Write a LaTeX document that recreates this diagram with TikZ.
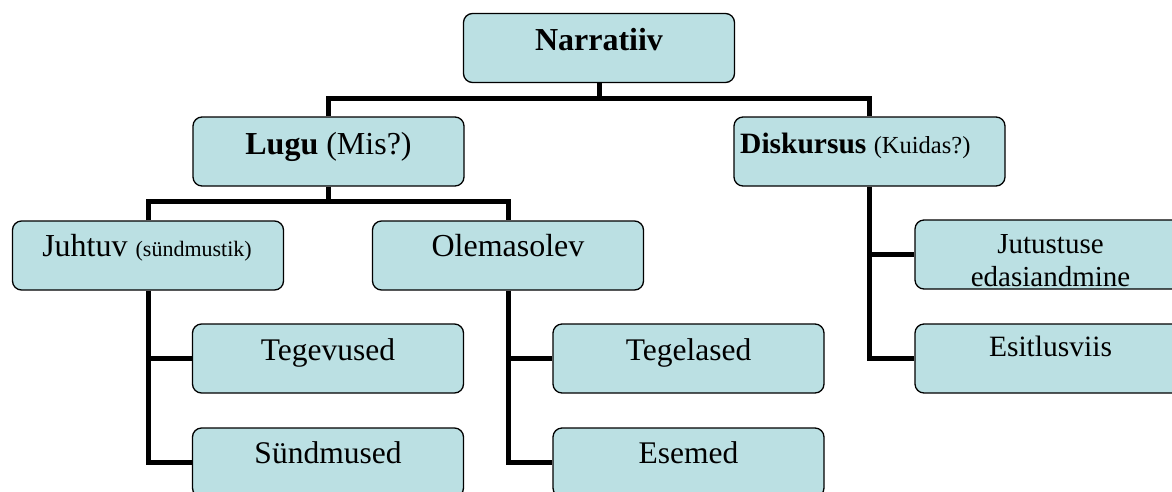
\documentclass[tikz,border=0pt]{standalone}
\usepackage{fontspec}
\setmainfont{Liberation Serif}
\definecolor{boxfill}{HTML}{BBE0E3}
\newcommand{\fsz}[1]{\fontsize{#1}{#1}\selectfont}
\begin{document}
\begin{tikzpicture}[x=1pt,y=1pt,
  box/.style={draw=black, line width=1.3pt, fill=boxfill, rounded corners=9pt,
    minimum width=271pt, minimum height=69pt, inner sep=0pt},
  lbl/.style={anchor=base, inner sep=0pt},
  conn/.style={line width=5pt, line join=miter}]
\useasboundingbox (0,0) rectangle (1172,-491);
\clip (0,0) rectangle (1172,-491);
% boxes
\node[box] (nar)  at (599,-48) {};
\node[box] (lugu) at (328.5,-151.5) {};
\node[box] (disk) at (869.5,-151.5) {};
\node[box] (juh)  at (148,-255.5) {};
\node[box] (ole)  at (508,-255.5) {};
\node[box] (teg)  at (328,-358.5) {};
\node[box] (sun)  at (328,-462.5) {};
\node[box] (tgl)  at (688.5,-358.5) {};
\node[box] (ese)  at (688.5,-462.5) {};
\node[box] (jut)  at (1050.5,-254.5) {};
\node[box] (esi)  at (1050.5,-358.5) {};
% connectors
\draw[conn] (nar.south) -- ++(0,-17);
\draw[conn] (lugu.north) -- ++(0,18) -| (disk.north);
\draw[conn] (lugu.south) -- ++(0,-17);
\draw[conn] (juh.north) -- ++(0,19) -| (ole.north);
\draw[conn] (juh.south) |- (sun.west);
\draw[conn] (juh.south |- teg.west) -- (teg.west);
\draw[conn] (ole.south) |- (ese.west);
\draw[conn] (ole.south |- tgl.west) -- (tgl.west);
\draw[conn] (disk.south) |- (esi.west);
\draw[conn] (disk.south |- jut.west) -- (jut.west);
% labels
\node[lbl] (tnar) at (599,-50) {\fsz{32}\bfseries Narratiiv};
\node[lbl] (tlugu) at (328.5,-154) {\fsz{32}\textbf{Lugu} (Mis?)};
\node[lbl, anchor=base west] (tdisk) at (740,-153) {\fsz{29.5}\textbf{Diskursus} {\fsz{24.5}(Kuidas?)}};
\node[lbl] (tjuh) at (147,-256) {\fsz{32}Juhtuv {\fsz{22}(sündmustik)}};
\node[lbl] (tole) at (508,-256) {\fsz{32}Olemasolev};
\node[lbl] (tteg) at (328,-360) {\fsz{31.5}Tegevused};
\node[lbl] (tsun) at (328,-463) {\fsz{31.5}Sündmused};
\node[lbl] (ttgl) at (688.5,-360) {\fsz{31.5}Tegelased};
\node[lbl] (tese) at (688.5,-463) {\fsz{31.5}Esemed};
\node[anchor=north, inner sep=0pt, align=center, font=\fontsize{29}{33}\selectfont] (tjut) at (1050.5,-234) {Jutustuse\\edasiandmine};
\node[lbl] (tesi) at (1050.5,-356) {\fsz{29.5}Esitlusviis};
\end{tikzpicture}
\end{document}
